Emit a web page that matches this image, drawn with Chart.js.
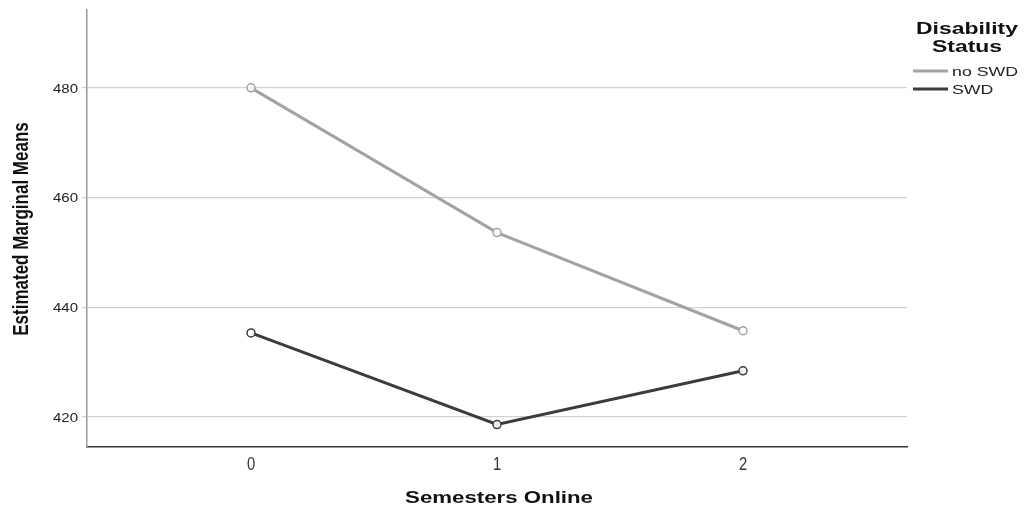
<!DOCTYPE html>
<html>
<head>
<meta charset="utf-8">
<script src="https://cdn.jsdelivr.net/npm/chart.js@4/dist/chart.umd.min.js"></script>
<style>
  html, body { margin: 0; padding: 0; background: #fff; }
  #wrap { width: 1026px; height: 509px; position: relative; }
</style>
</head>
<body>
<div id="wrap"><canvas id="chart" width="1026" height="509"></canvas></div>
<script>
// Semesters online (x) and estimated marginal means per disability group
const semesters = [0, 1, 2];
const noSwdMeans = [480.0, 453.6, 435.7];
const swdMeans = [435.3, 418.6, 428.4];
const yTicks = [420, 440, 460, 480];
const seriesNames = ["no SWD", "SWD"];
const seriesColors = ["#a3a3a3", "#3c3c3c"];
const legendTitle = ["Disability", "Status"];
const xTitle = "Semesters Online";
const yTitle = "Estimated Marginal Means";

const toPoints = vals => semesters.map((s, i) => ({ x: s, y: vals[i] }));

// text helper: horizontally stretched (sx) glyphs, like the exported SPSS figure
function wideText(ctx, text, x, y, font, sx, align, color) {
  ctx.save();
  ctx.font = font;
  ctx.fillStyle = color;
  ctx.textBaseline = "middle";
  ctx.textAlign = align;
  ctx.translate(x, y);
  ctx.scale(sx, 1);
  ctx.fillText(text, 0, 0);
  ctx.restore();
}

const SANS = "'Liberation Sans', Arial, sans-serif";

// Titles, tick labels and legend painted by hand around the plot
const decorations = {
  id: "decorations",
  afterDraw(chart) {
    const ctx = chart.ctx;
    const xs = chart.scales.x, ys = chart.scales.y;

    yTicks.forEach(v => wideText(ctx, String(v), 78, ys.getPixelForValue(v) + 1.5, "12.5px " + SANS, 1.2, "right", "#222"));
    semesters.forEach(v => wideText(ctx, String(v), xs.getPixelForValue(v), 465, "18px " + SANS, 0.82, "center", "#333"));

    wideText(ctx, xTitle, 499, 499, "bold 16px " + SANS, 1.39, "center", "#111");

    // rotated axis title: stretch screen-x before rotating
    ctx.save();
    ctx.font = "bold 17px " + SANS;
    ctx.fillStyle = "#111";
    ctx.textAlign = "center";
    ctx.textBaseline = "middle";
    ctx.translate(22, 229);
    ctx.scale(1.3, 1);
    ctx.rotate(-Math.PI / 2);
    ctx.fillText(yTitle, 0, 0);
    ctx.restore();

    wideText(ctx, legendTitle[0], 967, 29, "bold 17px " + SANS, 1.35, "center", "#111");
    wideText(ctx, legendTitle[1], 967, 47, "bold 17px " + SANS, 1.35, "center", "#111");
    seriesNames.forEach((name, i) => {
      const y = 71 + i * 18;
      ctx.save();
      ctx.strokeStyle = seriesColors[i];
      ctx.lineWidth = 3;
      ctx.beginPath();
      ctx.moveTo(913, y);
      ctx.lineTo(948, y);
      ctx.stroke();
      ctx.restore();
      wideText(ctx, name, 952, y + 1.5, "12px " + SANS, 1.48, "left", "#222");
    });
  }
};

const lineDataset = (label, vals, color) => ({
  label: label,
  data: toPoints(vals),
  borderColor: color,
  backgroundColor: "#ffffff",
  borderWidth: 3,
  pointRadius: 4,
  pointBorderWidth: 1.5,
  pointBorderColor: color,
  pointBackgroundColor: "rgba(255,255,255,0.9)",
  tension: 0
});

new Chart(document.getElementById("chart"), {
  type: "line",
  data: {
    datasets: [
      lineDataset(seriesNames[0], noSwdMeans, seriesColors[0]),
      lineDataset(seriesNames[1], swdMeans, seriesColors[1])
    ]
  },
  options: {
    responsive: false,
    animation: false,
    layout: { padding: { top: 10, right: 119, left: 0, bottom: 0 } },
    plugins: {
      legend: { display: false },
      tooltip: { enabled: false }
    },
    scales: {
      x: {
        type: "linear",
        min: -2 / 3,
        max: 8 / 3,
        afterBuildTicks: scale => { scale.ticks = semesters.map(v => ({ value: v })); },
        afterFit: scale => { scale.height = 62; },
        grid: { display: false, drawTicks: false },
        border: { color: "#333", width: 1.5 },
        ticks: { display: false }
      },
      y: {
        min: 414.5,
        max: 494.2,
        afterBuildTicks: scale => { scale.ticks = yTicks.map(v => ({ value: v })); },
        afterFit: scale => { scale.width = 87; },
        grid: { color: "#d2d2d2", lineWidth: 1.2, tickLength: 5, tickColor: "#d2d2d2" },
        border: { color: "#999", width: 1.5 },
        ticks: { display: false }
      }
    }
  },
  plugins: [decorations]
});
</script>
</body>
</html>
